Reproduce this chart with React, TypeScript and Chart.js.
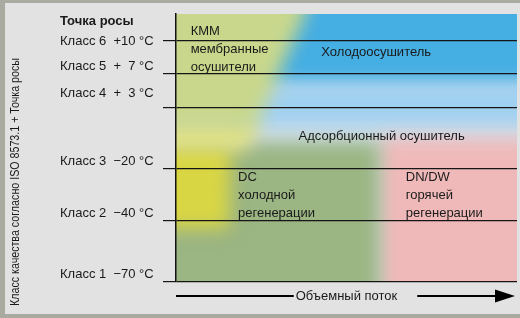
import React, { useEffect, useRef } from 'react';
import { Chart, registerables } from 'chart.js';

Chart.register(...registerables);

const FONT = "'Liberation Sans', Arial, Helvetica, sans-serif";
const NARROW = "'Liberation Sans Narrow', 'Liberation Sans', Arial, sans-serif";

// Dew-point classes (ISO 8573.1) and their level on the vertical scale (0 = class 1, 100 = top of the diagram)
const classLabels = ['Класс 1  −70 °C', 'Класс 2  −40 °C', 'Класс 3  −20 °C', 'Класс 4  +  3 °C', 'Класс 5  +  7 °C', 'Класс 6  +10 °C'];
const classLevels = [0, 22.8, 42.2, 64.9, 77.6, 89.9];
const headerLabel = 'Точка росы';
const headerLevel = 100;

const axisTitleY = 'Класс качества согласно ISO 8573.1 + Точка росы';
const axisTitleX = 'Объемный поток';

// Application regions of the dryer types: polygon vertices [volume flow, class level]
const membraneArea = [[-20, 120], [40, 120], [38, 100], [32, 83], [26, 65], [21.7, 56.7], [-20, 56.7]];
const yellowUpper = [[-20, 60.4], [24.5, 60.4], [21, 49.3], [-20, 49.3]];
const yellowLower = [[-20, 51.1], [16, 51.1], [15.5, 20.1], [-20, 20.1]];
const coldRegenArea = [[-20, 52.2], [59.8, 52.2], [59.8, -20], [-20, -20]];
const hotRegenArea = [[59.8, 53.7], [120, 53.7], [120, -20], [59.8, -20]];
const refrigFadeArea = [[15, 73.5], [120, 73.5], [120, 58.6], [15, 58.6]];
const refrigArea = [[20, 120], [120, 120], [120, 73.5], [20, 73.5]];
const adsorptionArea = [[-20, -20], [120, -20], [120, 120], [-20, 120]];

const regionLayers = [
  { data: membraneArea, color: '#c9d78c' },
  { data: yellowUpper, color: '#e3e283' },
  { data: yellowLower, color: '#d9d644' },
  { data: coldRegenArea, color: '#9bb583' },
  { data: hotRegenArea, color: '#f0b9b9' },
  { data: refrigFadeArea, color: '#9fd0f1' },
  { data: refrigArea, color: '#45aee3' },
  { data: adsorptionArea, color: '#d2e0ea' },
];

const regionNotes = [
  { lines: ['КММ', 'мембранные', 'осушители'], x: 4.3, y: 93.5, align: 'left' },
  { lines: ['Холодоосушитель'], x: 58.7, y: 85.8, align: 'center' },
  { lines: ['Адсорбционный осушитель'], x: 60.3, y: 54.5, align: 'center' },
  { lines: ['DC', 'холодной', 'регенерации'], x: 18.2, y: 39.2, align: 'left' },
  { lines: ['DN/DW', 'горячей', 'регенерации'], x: 67.4, y: 39.2, align: 'left' },
];

// how many text lines each class label is lifted above its line
const labelLift = [1, 1, 1, 2, 1, 0];

const regionPlugin = {
  id: 'regionBlur',
  beforeDatasetsDraw(chart: any) {
    const ctx = chart.ctx;
    ctx.save();
    ctx.filter = 'blur(9px)';
  },
  afterDatasetsDraw(chart: any) {
    const ctx = chart.ctx;
    ctx.restore();
    const xs = chart.scales.x;
    const ys = chart.scales.y;
    ctx.save();
    ctx.fillStyle = '#1a1a1a';
    ctx.font = `13px ${FONT}`;
    ctx.textBaseline = 'middle';
    regionNotes.forEach((n) => {
      ctx.textAlign = n.align;
      const px = xs.getPixelForValue(n.x);
      const py = ys.getPixelForValue(n.y);
      n.lines.forEach((t, i) => ctx.fillText(t, px, py + i * 18));
    });
    ctx.restore();
  },
};

const decorPlugin = {
  id: 'decor',
  afterDraw(chart: any) {
    const { ctx, chartArea } = chart;
    ctx.save();
    // flow arrow
    const y = chartArea.bottom + 14;
    ctx.font = `13px ${FONT}`;
    const w = ctx.measureText(axisTitleX).width;
    const cx = (chartArea.left + chartArea.right) / 2;
    const tip = chartArea.right - 2;
    ctx.strokeStyle = '#000';
    ctx.fillStyle = '#000';
    ctx.lineWidth = 2;
    ctx.beginPath();
    ctx.moveTo(chartArea.left, y);
    ctx.lineTo(cx - w / 2 - 2, y);
    ctx.moveTo(cx + w / 2 + 20, y);
    ctx.lineTo(tip - 18, y);
    ctx.stroke();
    ctx.beginPath();
    ctx.moveTo(tip, y);
    ctx.lineTo(tip - 20, y - 6.5);
    ctx.lineTo(tip - 20, y + 6.5);
    ctx.closePath();
    ctx.fill();
    // vertical axis caption
    ctx.translate(15.5, chartArea.bottom + 24);
    ctx.rotate(-Math.PI / 2);
    ctx.font = `12px ${NARROW}`;
    ctx.fillStyle = '#1a1a1a';
    ctx.textAlign = 'left';
    ctx.textBaseline = 'middle';
    const tw = ctx.measureText(axisTitleY).width;
    const target = 248;
    if (tw > target) ctx.scale(target / tw, 1);
    ctx.fillText(axisTitleY, 0, 0);
    ctx.restore();
  },
};

const gridColor = (c: any) => (c.tick && c.tick.value === headerLevel ? 'rgba(0,0,0,0)' : '#151515');

export default function App() {
  const ref = useRef<HTMLCanvasElement>(null);
  useEffect(() => {
    if (!ref.current) return;
    const chart = new Chart(ref.current, {
      type: 'line',
      data: {
        datasets: regionLayers.map((r) => ({
          data: r.data.map(([x, y]) => ({ x, y })),
          fill: 'shape',
          backgroundColor: r.color,
          borderColor: 'rgba(0,0,0,0)',
          borderWidth: 0,
          pointRadius: 0,
          pointHoverRadius: 0,
          tension: 0,
        })) as any,
      },
      options: {
        animation: false,
        responsive: false,
        devicePixelRatio: 1,
        events: [],
        layout: { padding: { left: 60, top: 44, right: 43, bottom: 14 } },
        plugins: {
          legend: { display: false },
          tooltip: { enabled: false },
          title: { display: false },
        },
        scales: {
          x: {
            type: 'linear',
            min: 0,
            max: 100,
            afterFit: (s: any) => {
              s.height = 22;
            },
            grid: { display: false },
            border: { display: false },
            ticks: { display: false },
            title: {
              display: true,
              text: axisTitleX,
              color: '#1a1a1a',
              font: { family: FONT, size: 13 },
              padding: { top: 0, bottom: 0 },
            },
          },
          y: {
            type: 'linear',
            min: 0,
            max: 100,
            afterBuildTicks: (s: any) => {
              s.ticks = [...classLevels, headerLevel].map((v) => ({ value: v }));
            },
            afterFit: (s: any) => {
              s.width = 116;
            },
            grid: { color: gridColor, tickColor: gridColor, lineWidth: 1.2, tickLength: 13, drawTicks: true, z: 1 },
            border: { display: true, color: '#111', width: 1.5, z: 1 },
            ticks: {
              autoSkip: false,
              crossAlign: 'far',
              padding: 0,
              color: '#1a1a1a',
              font: (c: any) => ({
                family: FONT,
                size: 13,
                lineHeight: 1.1,
                weight: c.tick && c.tick.value === headerLevel ? 'bold' : 'normal',
              }),
              callback: (value: any) => {
                const i = classLevels.indexOf(value);
                if (i >= 0) return [classLabels[i], ...Array(labelLift[i]).fill('')];
                if (value === headerLevel) return ['', headerLabel];
                return '';
              },
            },
          },
        },
      } as any,
      plugins: [regionPlugin, decorPlugin],
    });
    return () => chart.destroy();
  }, []);

  return (
    <>
      <div
        style={{
          position: 'fixed',
          left: 0,
          top: 0,
          width: 520,
          height: 318,
          boxSizing: 'border-box',
          background: '#e2e2e2',
          borderTop: '3px solid #a9aba1',
          borderLeft: '5px solid #a9aba1',
          borderBottom: '4px solid #a9aba1',
        }}
      />
      <div style={{ position: 'fixed', left: 0, top: 0, width: 520, height: 318, overflow: 'hidden' }}>
        <canvas ref={ref} width={560} height={348} style={{ position: 'absolute', left: 0, top: -30, width: 560, height: 348 }} />
      </div>
    </>
  );
}
